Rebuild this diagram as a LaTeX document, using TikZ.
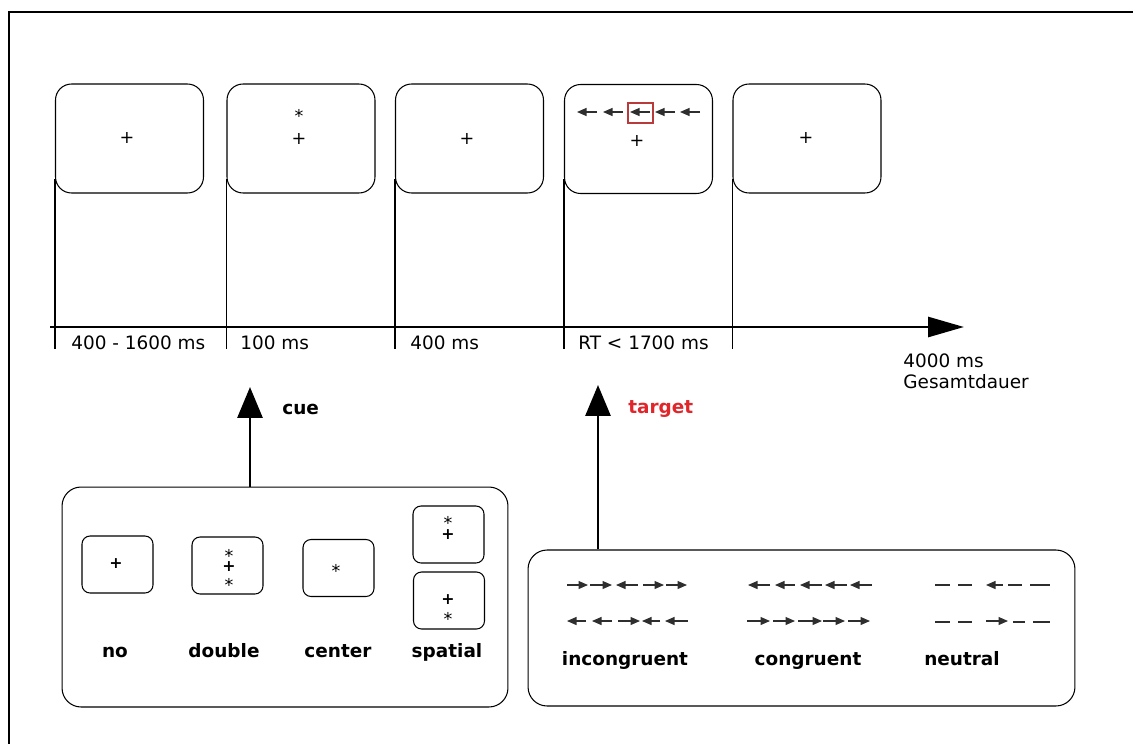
\documentclass[tikz,border=0pt]{standalone}
\usepackage{fontspec}
\setmainfont{DejaVu Sans}
\usetikzlibrary{arrows.meta,positioning}
\definecolor{tgtred}{HTML}{E0262B}
\definecolor{hitbox}{HTML}{B83A3A}
\definecolor{flkgray}{HTML}{2E2E2E}
% asterisk whose box holds only the visible glyph
\newcommand{\astk}{{\fontsize{10}{12}\selectfont\raisebox{-0.43em}[0.33em][0pt]{*}}}
\newcommand{\bplusg}{{\fontsize{9}{10}\selectfont\bfseries +}}
% symbols stacked in a small screen
\newcommand{\vstack}[1]{\vbox{\offinterlineskip\halign{\hfil##\hfil\cr#1}}}
\tikzset{
  screen/.style={draw, line width=0.6pt, rounded corners=0.32cm, minimum width=2.96cm, minimum height=2.18cm, inner sep=0pt},
  mini/.style={draw, line width=0.6pt, rounded corners=0.16cm, minimum width=1.42cm, minimum height=1.14cm, inner sep=0pt},
  panel/.style={draw, line width=0.6pt, rounded corners=0.38cm, inner sep=0pt},
  bigarr/.style={-{Triangle[length=6.2mm,width=5mm]}, line width=1.7pt},
  tline/.style={-{Triangle[length=7.2mm,width=4mm]}, line width=1.6pt},
  flk/.style={-{Triangle[length=1.9mm,width=1.6mm]}, line width=0.65pt, flkgray},
  dsh/.style={line width=0.65pt, flkgray},
  tlab/.style={font=\fontsize{10.5}{12}\selectfont, inner sep=0pt, anchor=west},
  blab/.style={font=\fontsize{10.5}{12}\selectfont\bfseries, inner sep=0pt},
  plus/.style={font=\fontsize{10}{12}\selectfont, inner sep=0pt},
  sym/.style={inner sep=0pt},
}

\begin{document}
\begin{tikzpicture}[x=0.02cm,y=-0.02cm]
\useasboundingbox (0,0) rectangle (1133,744);
\draw[line width=1.2pt] (9,744) -- (9,12) -- (1133,12);

% ============ trial sequence: five screens ============
\node[screen] (s1) at (129.5,138.5) {};
\node[screen] (s2) at (301,138.5) {};
\node[screen] (s3) at (469.5,138.5) {};
\node[screen] (s4) at (638.5,139) {};
\node[screen] (s5) at (807,138.5) {};
\node[plus] (f1) at (127,138) {+};
\node[plus] (f2) at (299,139) {+};
\node[sym] (c2) at (299,112) {\astk};
\node[plus] (f3) at (467,139) {+};
\node[plus] (f4) at (637,141) {+};
\node[plus] (f5) at (806,138) {+};
% flanker row in the target screen
\node[draw=hitbox, line width=0.6pt, minimum width=0.5cm, minimum height=0.4cm, inner sep=0pt] (hit) at (640.5,113) {};
\foreach \a/\b in {597/577, 623/603, 650/630, 675/655, 700/680}
  \draw[flk] (\a,112) -- (\b,112);
% drop lines to the time axis
\foreach \s in {s1,s2,s3,s4,s5}
  \draw[line width=0.6pt] ([yshift=0.3cm]\s.south west) -- ++(0,170);

% ============ time axis ============
\coordinate (t0) at (50,327);
\coordinate (t1) at (964,327);
\draw[tline] (t0) -- (t1);
\node[tlab] (d1) at (71,343) {400 - 1600 ms};
\node[tlab] (d2) at (240,343) {100 ms};
\node[tlab] (d3) at (410,343) {400 ms};
\node[tlab] (d4) at (578,343) {RT < 1700 ms};
\node[tlab] (tot) at (903,361) {4000 ms};
\node[tlab] (ges) at (903,382) {Gesamtdauer};

% ============ cue conditions ============
\node[panel, minimum width=8.92cm, minimum height=4.4cm] (cuebox) at (285,597) {};
\coordinate (cuetip) at (250,387);
\draw[bigarr] (cuebox.north -| cuetip) -- (cuetip);
\node[blab, anchor=west] (cue) at (282,409) {cue};

\node[mini] (m1) at (117.5,564.5) {};
\node[mini] (m2) at (227.5,565.5) {};
\node[mini] (m3) at (338.5,568) {};
\node[mini] (m4) at (448.5,534.5) {};
\node[mini] (m5) at (449,600.5) {};
\node[sym] at (116,564) {\bplusg};
\node[sym] at (229,566.5) {\vstack{\astk\cr\noalign{\kern3.95pt}\bplusg\cr\noalign{\kern3.95pt}\astk\cr}};
\node[sym] at (336,567) {\astk};
\node[sym] at (448,527.8) {\vstack{\astk\cr\noalign{\kern4.75pt}\bplusg\cr}};
\node[sym] at (448,606.6) {\vstack{\bplusg\cr\noalign{\kern4.25pt}\astk\cr}};
\node[blab, anchor=base] (n1) at (115,657) {no};
\node[blab, anchor=base] (n2) at (224,657) {double};
\node[blab, anchor=base] (n3) at (338,657) {center};
\node[blab, anchor=base] (n4) at (447,657) {spatial};

% ============ target conditions ============
\node[panel, minimum width=10.94cm, minimum height=3.12cm] (tgtbox) at (801.5,628) {};
\coordinate (tgttip) at (598,385);
\draw[bigarr] (tgtbox.north -| tgttip) -- (tgttip);
\node[blab, anchor=west, tgtred] (tgt) at (628,409) {target};

% incongruent
\foreach \a/\b in {567/588, 590/612, 638/616, 643/664, 666/687}
  \draw[flk] (\a,585) -- (\b,585);
\foreach \a/\b in {586/567, 612/592, 618/640, 660/642, 688/665}
  \draw[flk] (\a,621) -- (\b,621);
% congruent
\foreach \a/\b in {770/748, 795/775, 822/800, 847/825, 872/850}
  \draw[flk] (\a,585) -- (\b,585);
\foreach \a/\b in {747/770, 773/795, 798/822, 823/845, 848/870}
  \draw[flk] (\a,621) -- (\b,621);
% neutral
\foreach \a/\b in {935/950, 958/972, 1008/1022, 1030/1050}
  \draw[dsh] (\a,585) -- (\b,585);
\draw[flk] (1003,585) -- (986,585);
\foreach \a/\b in {935/950, 958/972, 1013/1025, 1033/1050}
  \draw[dsh] (\a,622) -- (\b,622);
\draw[flk] (986,621) -- (1008,621);

\node[blab, anchor=base] (k1) at (625,665) {incongruent};
\node[blab, anchor=base] (k2) at (808,665) {congruent};
\node[blab, anchor=base] (k3) at (962,665) {neutral};

\end{tikzpicture}
\end{document}
